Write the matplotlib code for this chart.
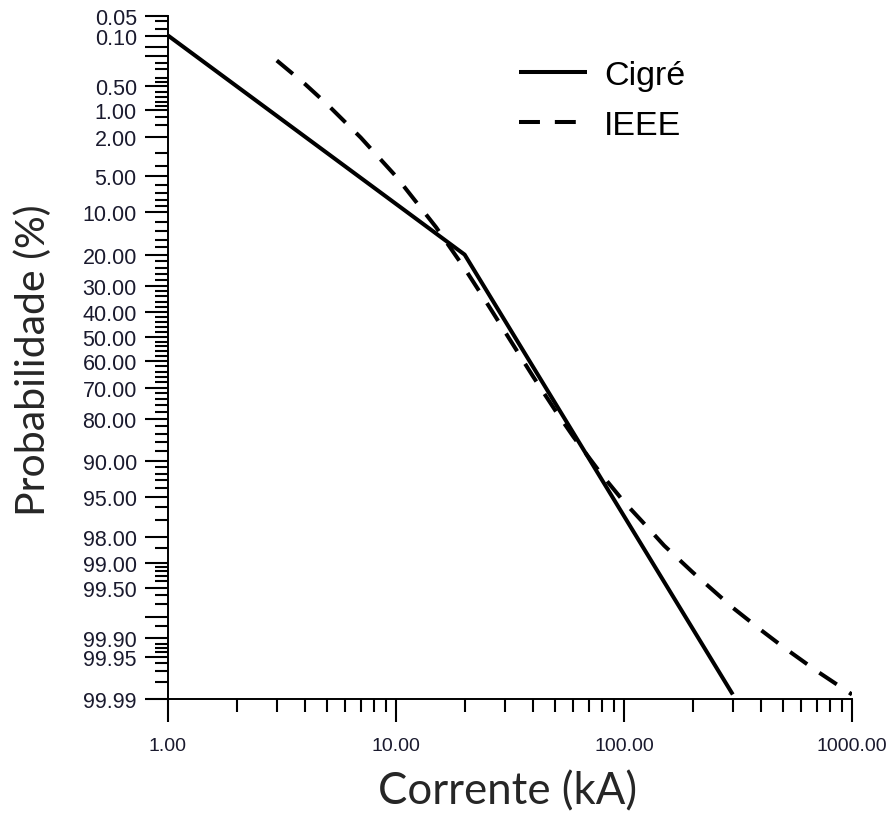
import numpy as np
import matplotlib
matplotlib.use("Agg")
import matplotlib.pyplot as plt
from matplotlib.ticker import FixedLocator, FixedFormatter, NullFormatter
from statistics import NormalDist

# curves (current in kA, cumulative probability in %)
cigre_ka = [1, 20, 300]
cigre_pct = [0.10, 20.0, 99.988]

ieee_ka = [3, 4, 5, 7, 10, 15, 20, 25, 30, 40, 50, 60, 80, 100, 120, 150, 200, 300, 400, 500, 700, 1000]
ieee_pct = [0.23, 0.48, 0.86, 2.05, 5.0, 13.1, 24.2, 36.4, 47.9, 66.0, 77.6, 84.8, 92.2, 95.5, 97.1,
            98.4, 99.22, 99.73, 99.871, 99.928, 99.970, 99.988]

# probability axis ticks
y_labeled = [0.05, 0.10, 0.50, 1, 2, 5, 10, 20, 30, 40, 50, 60, 70, 80, 90, 95, 98, 99, 99.5, 99.9, 99.95, 99.99]
y_long = [0.15, 0.2, 99.8]
y_minor = [0.06, 0.08, 0.25, 0.3, 0.4, 0.45, 0.6, 0.7, 0.8, 0.9, 1.2, 1.5, 3, 4, 6, 7, 8, 9,
           12, 14, 16, 18, 22, 24, 26, 28, 32, 34, 36, 38, 42, 44, 46, 48, 52, 54, 56, 58,
           62, 64, 66, 68, 72, 74, 76, 78, 82, 84, 86, 88, 91, 92, 93, 94, 96, 97, 98.5,
           99.1, 99.2, 99.3, 99.4, 99.6, 99.7, 99.85, 99.92, 99.93, 99.94, 99.96, 99.97, 99.98]
x_major = [1, 10, 100, 1000]
x_labels = ["1.00", "10.00", "100.00", "1000.00"]

_nd = NormalDist()


def prob_fwd(p):
    p = np.clip(np.asarray(p, dtype=float) / 100.0, 1e-9, 1 - 1e-9)
    return np.vectorize(_nd.inv_cdf)(p)


def prob_inv(z):
    return np.vectorize(_nd.cdf)(np.asarray(z, dtype=float)) * 100.0


plt.rcParams["font.family"] = ["Liberation Sans", "DejaVu Sans"]

fig = plt.figure(figsize=(8.94, 8.20), dpi=100)
ax = fig.add_axes([168 / 894, 1 - 700 / 820, (852 - 168) / 894, (700 - 17) / 820])

ax.plot(cigre_ka, cigre_pct, color="black", lw=2.9, label="Cigré", solid_capstyle="butt")
ax.plot(ieee_ka, ieee_pct, color="black", lw=2.9, dashes=(5.2, 3.7), label="IEEE",
        dash_capstyle="butt")

ax.set_xscale("log")
ax.set_xlim(1, 1000)
ax.set_yscale("function", functions=(prob_fwd, prob_inv))
ax.set_ylim(99.99, 0.05)

# y ticks
y_major = y_labeled + y_long
y_major_lab = ["%.2f" % v for v in y_labeled] + [""] * len(y_long)
ax.yaxis.set_major_locator(FixedLocator(y_major))
ax.yaxis.set_major_formatter(FixedFormatter(y_major_lab))
ax.yaxis.set_minor_locator(FixedLocator(y_minor))
ax.yaxis.set_minor_formatter(NullFormatter())

# x ticks
ax.xaxis.set_major_locator(FixedLocator(x_major))
ax.xaxis.set_major_formatter(FixedFormatter(x_labels))
x_minor = [m * d for d in (1, 10, 100) for m in range(2, 10)]
ax.xaxis.set_minor_locator(FixedLocator(x_minor))
ax.xaxis.set_minor_formatter(NullFormatter())

for s in ("top", "right"):
    ax.spines[s].set_visible(False)
for s in ("left", "bottom"):
    ax.spines[s].set_linewidth(1.4)

ax.tick_params(which="major", direction="out", length=16.5, width=1.5, color="black")
ax.tick_params(which="minor", direction="out", length=9.3, width=1.5, color="black")
ax.tick_params(axis="y", which="major", pad=6, labelsize=15.5, labelcolor="#1a1a2e")
ax.tick_params(axis="x", which="major", pad=11, labelsize=14, labelcolor="#1a1a2e")

label_font = ["Lato", "DejaVu Sans"]
fig.text(33 / 894, 1 - 360 / 820, "Probabilidade (%)", rotation=90, ha="center", va="center",
         fontsize=29.5, family=label_font, color="#262626")
fig.text(508 / 894, 1 - 792 / 820, "Corrente (kA)", ha="center", va="center",
         fontsize=31.5, family=label_font, color="#262626")

leg = ax.legend(loc="upper left", bbox_to_anchor=(519 / 894, 1 - 61 / 820),
                bbox_transform=fig.transFigure, frameon=False, fontsize=24.5,
                handlelength=2.0, handletextpad=0.5, labelspacing=0.57, borderpad=0,
                borderaxespad=0)

fig.savefig("out.png", dpi=100)
